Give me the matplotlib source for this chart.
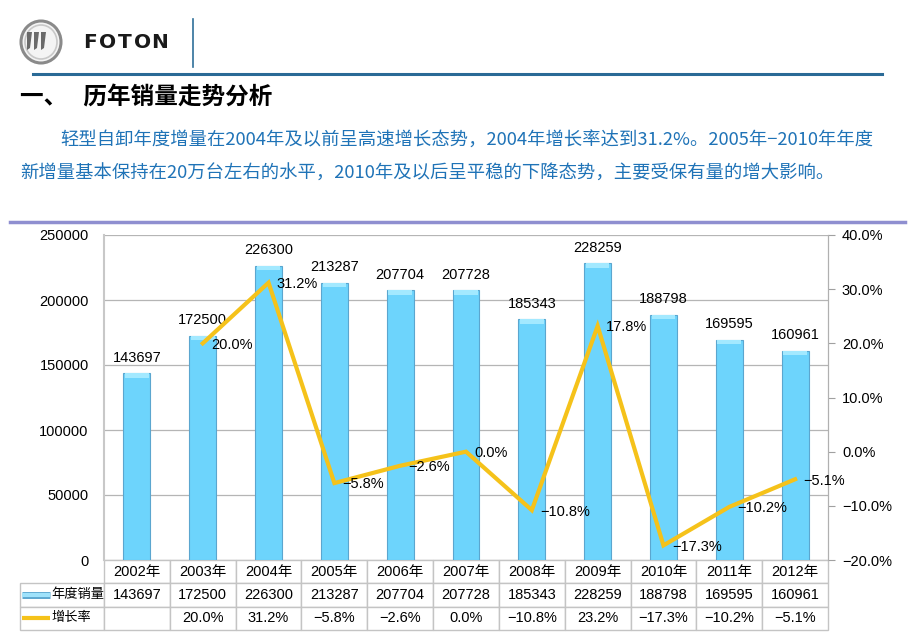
import numpy as np
import matplotlib
matplotlib.use("Agg")
import matplotlib.pyplot as plt
from matplotlib.lines import Line2D
from matplotlib.patches import Ellipse, Polygon
from matplotlib.ticker import FuncFormatter

plt.rcParams['font.family'] = ['Liberation Sans', 'Noto Sans CJK SC', 'DejaVu Sans']

# data
years = ['2002年', '2003年', '2004年', '2005年', '2006年', '2007年',
         '2008年', '2009年', '2010年', '2011年', '2012年']
sales = [143697, 172500, 226300, 213287, 207704, 207728,
         185343, 228259, 188798, 169595, 160961]
growth = [np.nan, 20.0, 31.2, -5.8, -2.6, 0.0, -10.8, 23.2, -17.3, -10.2, -5.1]
# point labels as shown on the chart (2009 label differs from table)
growth_labels = ['', '20.0%', '31.2%', '-5.8%', '-2.6%', '0.0%',
                 '-10.8%', '17.8%', '-17.3%', '-10.2%', '-5.1%']

title = '一、   历年销量走势分析'
para1 = '轻型自卸年度增量在2004年及以前呈高速增长态势，2004年增长率达到31.2%。2005年−2010年年度'
para2 = '新增量基本保持在20万台左右的水平，2010年及以后呈平稳的下降态势，主要受保有量的增大影响。'

W, H = 920, 636
fig = plt.figure(figsize=(W / 100, H / 100), dpi=100)
fig.patch.set_facecolor('white')


def fx(px):
    return px / W


def fy(py):
    return 1 - py / H


# ---- header ----
fig.add_artist(Ellipse((fx(41), fy(42)), fx(40), 42 / H, facecolor='#f4f4f4',
                       edgecolor='#8a8a8a', lw=2.2))
fig.add_artist(Ellipse((fx(41), fy(42)), fx(32), 34 / H, facecolor='none',
                       edgecolor='#c8c8c8', lw=1.2))
for dx in (0, 7, 14):
    fig.add_artist(Polygon([(fx(27 + dx), fy(32)), (fx(32 + dx), fy(32)),
                            (fx(30 + dx), fy(48)), (fx(27 + dx), fy(50))],
                           closed=True, facecolor='#6a6a6a', edgecolor='none'))
for i, ch in enumerate('FOTON'):
    fig.text(fx(90 + 17.5 * i), fy(43), ch, fontsize=14.5, fontweight='bold',
             family='DejaVu Sans', va='center', ha='center', color='#1a1a1a')
fig.add_artist(Line2D([fx(193), fx(193)], [fy(19), fy(67)], color='#2f7099', lw=1.2))
fig.add_artist(Line2D([fx(33), fx(882)], [fy(74), fy(74)], color='#2a6a96', lw=2.2))

fig.text(fx(20), fy(98), title, fontsize=17, fontweight='bold',
         family=['Noto Sans CJK SC'], va='center', ha='left', color='black')
fig.text(fx(60), fy(141), para1, fontsize=13.2, family=['Noto Sans CJK SC'],
         va='center', ha='left', color='#1f73b7')
fig.text(fx(20), fy(174), para2, fontsize=13.2, family=['Noto Sans CJK SC'],
         va='center', ha='left', color='#1f73b7')
fig.add_artist(Line2D([fx(10), fx(905)], [fy(222), fy(222)], color='#8f8fd0', lw=2.5))

# ---- chart ----
ax = fig.add_axes([fx(104), fy(560), fx(828) - fx(104), (560 - 235) / H])
x = np.arange(len(years))
cap = 3500
ax.bar(x, sales, width=0.41, color='#6dd4fc', edgecolor='#5ba6cf', lw=0.8, zorder=3)
ax.bar(x, [cap] * len(x), bottom=np.array(sales) - cap, width=0.36,
       color='#a3e9ff', edgecolor='none', zorder=4)
for xi, v in zip(x, sales):
    ax.annotate(str(v), (xi, v), xytext=(0, 6), textcoords='offset points',
                ha='center', va='bottom', fontsize=10.5, zorder=5)

ax.set_xlim(-0.5, len(years) - 0.5)
ax.set_ylim(0, 250000)
ax.set_yticks(np.arange(0, 250001, 50000))
ax.yaxis.grid(True, color='#b5b5b5', lw=0.9, zorder=0)
ax.set_axisbelow(True)
ax.tick_params(axis='y', length=0, pad=11, labelsize=10.5)
ax.set_xticks([])
for s in ('top', 'bottom'):
    ax.spines[s].set_visible(False)
ax.spines['left'].set_color('#c8c8c8')
ax.spines['left'].set_linewidth(1.5)
ax.spines['right'].set_color('#b0b0b0')

ax2 = ax.twinx()
ax2.plot(x, growth, color='#f5c21a', lw=3, zorder=6, solid_joinstyle='miter')
for xi, g, lab in zip(x, growth, growth_labels):
    if lab:
        ax2.annotate(lab.replace('-', '−'), (xi, g), xytext=(6, -1),
                     textcoords='offset points', ha='left', va='center',
                     fontsize=10.5, zorder=7)
ax2.set_ylim(-20, 40)
ax2.set_yticks(np.arange(-20, 41, 10))
ax2.yaxis.set_major_formatter(FuncFormatter(lambda v, p: f'{v:.1f}%'.replace('-', '−')))
ax2.tick_params(axis='y', length=5, color='#a0a0a0', pad=5, labelsize=10.5)
for s in ('top', 'bottom', 'left'):
    ax2.spines[s].set_visible(False)
ax2.spines['right'].set_color('#b0b0b0')

# ---- data table ----
rows = [[''] + years,
        ['年度销量'] + [str(v) for v in sales],
        ['增长率'] + ['' if np.isnan(g) else f'{g:.1f}%'.replace('-', '−') for g in growth]]
axw = 828 - 104
cw = [84 / axw] + [1 / len(years)] * len(years)
tb = ax.table(cellText=rows, colWidths=cw, cellLoc='center',
              bbox=[-84 / axw, -70 / 325, 1 + 84 / axw, 70 / 325])
tb.auto_set_font_size(False)
tb.set_fontsize(10.5)
for (r, c), cell in tb.get_celld().items():
    cell.set_edgecolor('#c4c4c4')
    cell.set_linewidth(1)
    if c == 0:
        cell.get_text().set_fontsize(9.5)
        cell.get_text().set_ha('left')
        cell.PAD = 0.37
        if r == 0:
            cell.visible_edges = ''

# legend swatches in the table label column
sx0, sx1 = -82 / axw, -54 / axw
ax.add_line(Line2D([sx0, sx1], [-35 / 325, -35 / 325], transform=ax.transAxes,
                   color='#5ba6cf', lw=5, clip_on=False, solid_capstyle='butt'))
ax.add_line(Line2D([sx0, sx1], [-35 / 325, -35 / 325], transform=ax.transAxes,
                   color='#9fe2fb', lw=3, clip_on=False, solid_capstyle='butt'))
ax.add_line(Line2D([sx0, sx1], [-58 / 325, -58 / 325], transform=ax.transAxes,
                   color='#f5c21a', lw=3, clip_on=False, solid_capstyle='butt'))

fig.savefig('out.png', dpi=100)
